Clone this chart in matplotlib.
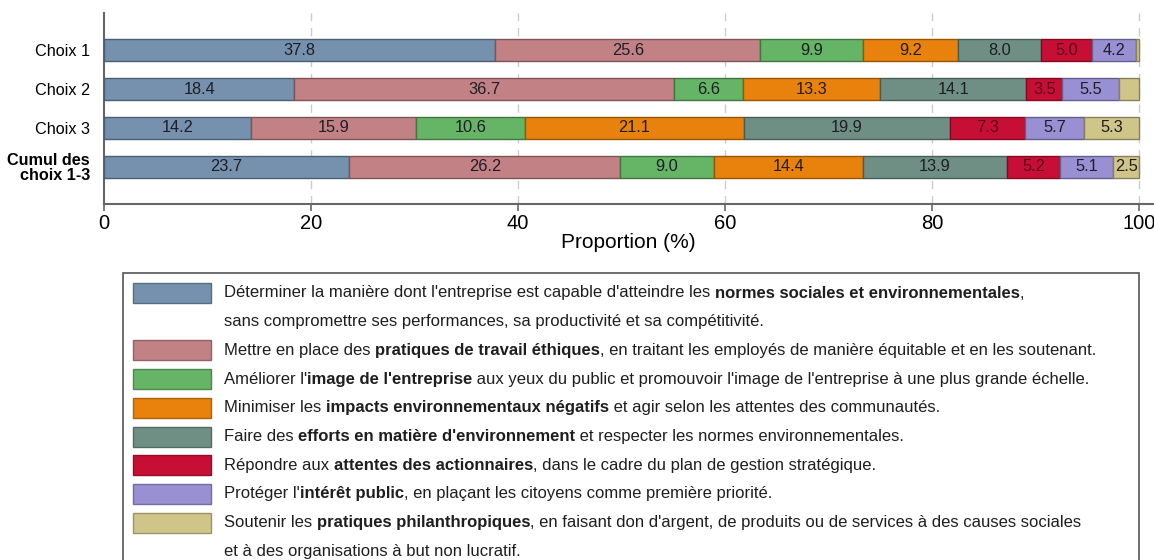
import numpy as np
import matplotlib
matplotlib.use('Agg')
import matplotlib.pyplot as plt
from matplotlib.patches import Rectangle
from matplotlib.colors import to_rgb

plt.rcParams['font.family'] = ['Liberation Sans', 'DejaVu Sans']

# data
categories = ['Choix 1', 'Choix 2', 'Choix 3', 'Cumul des\nchoix 1-3']
normes = [37.8, 18.4, 14.2, 23.7]
travail = [25.6, 36.7, 15.9, 26.2]
image = [9.9, 6.6, 10.6, 9.0]
impacts = [9.2, 13.3, 21.1, 14.4]
efforts = [8.0, 14.1, 19.9, 13.9]
actionnaires = [5.0, 3.5, 7.3, 5.2]
interet = [4.2, 5.5, 5.7, 5.1]
philanthropie = [0.3, 1.9, 5.3, 2.5]

series = [normes, travail, image, impacts, efforts, actionnaires, interet, philanthropie]
colors = ['#7591ae', '#c28185', '#66b466', '#e8820c', '#6f8f84', '#c70f36', '#9990d4', '#d0c589']
text_colors = ['#1e1e24'] * 5 + ['#5a0a18'] + ['#1e1e24'] * 2

# legend text: list of lines per entry, each line a list of (text, bold)
legend_entries = [
    [[("Déterminer la manière dont l'entreprise est capable d'atteindre les ", False),
      ("normes sociales et environnementales", True), (",", False)],
     [("sans compromettre ses performances, sa productivité et sa compétitivité.", False)]],
    [[("Mettre en place des ", False), ("pratiques de travail éthiques", True),
      (", en traitant les employés de manière équitable et en les soutenant.", False)]],
    [[("Améliorer l'", False), ("image de l'entreprise", True),
      (" aux yeux du public et promouvoir l'image de l'entreprise à une plus grande échelle.", False)]],
    [[("Minimiser les ", False), ("impacts environnementaux négatifs", True),
      (" et agir selon les attentes des communautés.", False)]],
    [[("Faire des ", False), ("efforts en matière d'environnement", True),
      (" et respecter les normes environnementales.", False)]],
    [[("Répondre aux ", False), ("attentes des actionnaires", True),
      (", dans le cadre du plan de gestion stratégique.", False)]],
    [[("Protéger l'", False), ("intérêt public", True),
      (", en plaçant les citoyens comme première priorité.", False)]],
    [[("Soutenir les ", False), ("pratiques philanthropiques", True),
      (", en faisant don d'argent, de produits ou de services à des causes sociales", False)],
     [("et à des organisations à but non lucratif.", False)]],
]


def darker(c, f=0.65):
    r, g, b = to_rgb(c)
    return (r * f, g * f, b * f)


W, H = 1154, 560
fig = plt.figure(figsize=(W / 100, H / 100), dpi=100)
ax = fig.add_axes([104 / W, 1 - 204 / H, 1049.5 / W, 191 / H])

y = np.arange(len(categories))
left = np.zeros(len(categories))
for vals, col, tcol in zip(series, colors, text_colors):
    vals = np.array(vals)
    ax.barh(y, vals, left=left, height=0.57, color=col,
            edgecolor=darker(col), linewidth=1, zorder=3)
    for yi, l, v in zip(y, left, vals):
        if v >= 2.5:
            ax.text(l + v / 2, yi, '%.1f' % v, ha='center', va='center',
                    fontsize=11.8, color=tcol, zorder=4)
    left += vals

ax.set_xlim(0, 101.4)
ax.set_ylim(3.95, -0.95)
ax.set_yticks(y)
ax.set_yticklabels(categories, fontsize=11.7, linespacing=1.0)
ax.get_yticklabels()[-1].set_fontweight('bold')
ax.set_xticks([0, 20, 40, 60, 80, 100])
ax.tick_params(axis='x', labelsize=14.5, length=5, width=1.2, color='#666666', pad=2)
ax.tick_params(axis='y', length=0, pad=10)
ax.set_xlabel('Proportion (%)', fontsize=15, labelpad=0)
for v in [20, 40, 60, 80, 100]:
    ax.axvline(v, color='#cccccc', linestyle=(0, (6, 5)), linewidth=1, zorder=1)
for s in ['top', 'right']:
    ax.spines[s].set_visible(False)
for s in ['left', 'bottom']:
    ax.spines[s].set_color('#666666')
    ax.spines[s].set_linewidth(1.5)

# legend box, drawn by hand to get the bold fragments
fig.patches.append(Rectangle((123 / W, -0.02), (1139 - 123) / W, 1 - 273 / H + 0.02,
                             transform=fig.transFigure, facecolor='none',
                             edgecolor='#555555', linewidth=1.2))

fig.canvas.draw()
renderer = fig.canvas.get_renderer()
line_y = 293
step = 28.7
for entry, col in zip(legend_entries, colors):
    fig.patches.append(Rectangle((133 / W, 1 - (line_y + 10) / H), 78 / W, 20 / H,
                                 transform=fig.transFigure, facecolor=col,
                                 edgecolor=darker(col, 0.75), linewidth=1))
    for line in entry:
        x = 224
        for txt, bold in line:
            t = fig.text(x / W, 1 - line_y / H, txt, fontsize=12, va='center', ha='left',
                         fontweight='bold' if bold else 'normal', color='#1e1e1e')
            x += t.get_window_extent(renderer).width
        line_y += step

fig.savefig('out.png', dpi=100)
